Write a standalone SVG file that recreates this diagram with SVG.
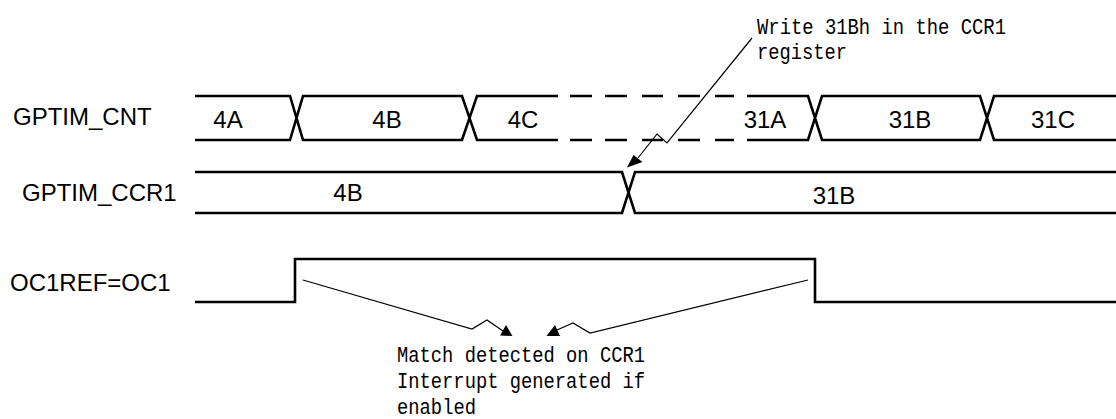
<svg xmlns="http://www.w3.org/2000/svg" width="1116" height="419" viewBox="0 0 1116 419">
<style>
.bus{fill:none;stroke:#000;stroke-width:2.6;stroke-linejoin:miter}
.lbl{font-family:"Liberation Sans",Arial,sans-serif;font-size:24px;fill:#000}
.val{font-family:"Liberation Sans",Arial,sans-serif;font-size:24px;fill:#000;text-anchor:middle}
.note{font-family:"Liberation Mono","Courier New",monospace;font-size:22px;fill:#000}
.thin{fill:none;stroke:#000;stroke-width:1.2}
</style>
<rect width="1116" height="419" fill="#fff"/>
<g id="label-cnt"><text class="lbl" x="13" y="125">GPTIM_CNT</text></g>
<g id="label-ccr1"><text class="lbl" x="22" y="201">GPTIM_CCR1</text></g>
<g id="label-oc1"><text class="lbl" x="10" y="291">OC1REF=OC1</text></g>

<g id="cnt-bus">
<path class="bus" d="M195 96H290L303 140H462L477 96H558 M195 140H290L303 96H462L477 140H558"/>
<path class="bus" d="M570 96H592M605 96H627M642 96H663M678 96H700M715 96H734 M570 140H592M605 140H627M642 140H663M678 140H700M715 140H734"/>
<path class="bus" d="M747 96H808L822 140H980L994 96H1116 M747 140H808L822 96H980L994 140H1116"/>
<text class="val" x="228" y="128">4A</text>
<text class="val" x="387" y="128">4B</text>
<text class="val" x="523" y="128">4C</text>
<text class="val" x="765" y="128">31A</text>
<text class="val" x="910" y="128">31B</text>
<text class="val" x="1053" y="128">31C</text>
</g>

<g id="ccr1-bus">
<path class="bus" d="M195 172H622L635 213H1116 M195 213H622L635 172H1116"/>
<text class="val" x="348" y="201">4B</text>
<text class="val" x="834" y="204">31B</text>
</g>

<g id="oc1-signal">
<path class="bus" d="M195 302H295V259H815V302H1116"/>
</g>

<g id="note-write">
<text class="note" x="757" y="34" textLength="249" lengthAdjust="spacingAndGlyphs">Write 31Bh in the CCR1</text>
<text class="note" x="757" y="59" textLength="90" lengthAdjust="spacingAndGlyphs">register</text>
</g>

<g id="note-match">
<text class="note" x="397" y="362" textLength="248" lengthAdjust="spacingAndGlyphs">Match detected on CCR1</text>
<text class="note" x="397" y="388" textLength="248" lengthAdjust="spacingAndGlyphs">Interrupt generated if</text>
<text class="note" x="397" y="414" textLength="79" lengthAdjust="spacingAndGlyphs">enabled</text>
</g>

<g id="connectors">
<path class="thin" d="M752 38L667 143L657 134L638 158"/>
<polygon points="627,167.5 633.5,155 642.5,162"/>
<path class="thin" d="M303 280L472 329L487 320L503 331"/>
<polygon points="512.5,336 500,335.5 506,325"/>
<path class="thin" d="M808 280L590 333L573 323L557 330"/>
<polygon points="546.5,336 560,336 555,325"/>
</g>
</svg>
